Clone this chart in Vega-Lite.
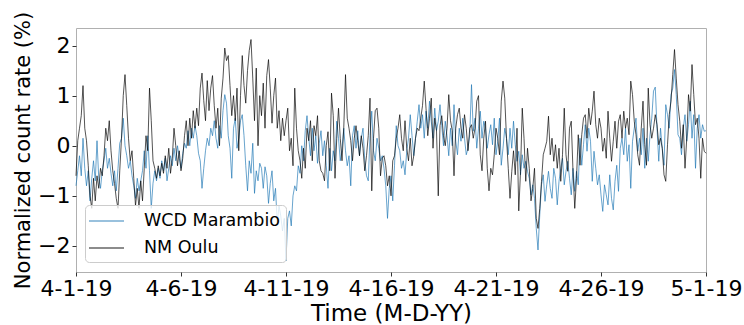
{
"$schema": "https://vega.github.io/schema/vega-lite/v6.json",
"width": 630, "height": 244,
"autosize": {"type": "none"},
"padding": {"left": 76, "top": 28, "right": 38, "bottom": 53},
"background": "white",
"config": {
  "view": {"stroke": "#b0b0b0", "strokeWidth": 1},
  "font": "DejaVu Sans",
  "axis": {"labelFont": "DejaVu Sans", "labelFontSize": 22, "labelColor": "#000", "titleFont": "DejaVu Sans", "titleFontWeight": "normal", "titleColor": "#000", "tickColor": "#333", "tickSize": 4, "domain": false, "grid": false, "labelPadding": 2},
  "axisX": {"titleFontSize": 23, "titlePadding": 3},
  "axisY": {"titleFontSize": 21, "titlePadding": 4}
},
"data": {"values": [
{"t":"2019-04-01T00:00","w":-0.8,"o":-0.6},{"t":"2019-04-01T02:00","w":-0.5,"o":0.1},{"t":"2019-04-01T04:00","w":-0.2,"o":0.35},{"t":"2019-04-01T06:00","w":-0.6,"o":0.6},{"t":"2019-04-01T08:00","w":0.15,"o":1.2},{"t":"2019-04-01T10:00","w":-0.45,"o":0.35},{"t":"2019-04-01T12:00","w":-0.8,"o":0.1},{"t":"2019-04-01T14:00","w":-0.5,"o":-0.4},{"t":"2019-04-01T16:00","w":-1.1,"o":-1.0},{"t":"2019-04-01T18:00","w":-0.65,"o":-1.25},{"t":"2019-04-01T20:00","w":-0.3,"o":-0.65},{"t":"2019-04-01T22:00","w":-0.7,"o":-1.1},
{"t":"2019-04-02T00:00","w":0.1,"o":-0.6},{"t":"2019-04-02T02:00","w":-0.65,"o":-0.85},{"t":"2019-04-02T04:00","w":-0.85,"o":-0.45},{"t":"2019-04-02T06:00","w":-0.5,"o":-0.6},{"t":"2019-04-02T08:00","w":-0.3,"o":-0.2},{"t":"2019-04-02T10:00","w":-0.05,"o":0.35},{"t":"2019-04-02T12:00","w":-0.45,"o":0.1},{"t":"2019-04-02T14:00","w":-0.25,"o":0.5},{"t":"2019-04-02T16:00","w":-0.55,"o":-0.1},{"t":"2019-04-02T18:00","w":-0.8,"o":-0.5},{"t":"2019-04-02T20:00","w":-0.5,"o":-0.75},{"t":"2019-04-02T22:00","w":-0.9,"o":-1.05},
{"t":"2019-04-03T00:00","w":-0.45,"o":-1.25},{"t":"2019-04-03T02:00","w":0.05,"o":-0.5},{"t":"2019-04-03T04:00","w":0.15,"o":0.15},{"t":"2019-04-03T06:00","w":0.55,"o":1.0},{"t":"2019-04-03T08:00","w":0.0,"o":1.42},{"t":"2019-04-03T10:00","w":-0.2,"o":0.8},{"t":"2019-04-03T12:00","w":-0.45,"o":0.15},{"t":"2019-04-03T14:00","w":-0.3,"o":-0.3},{"t":"2019-04-03T16:00","w":-0.6,"o":-0.1},{"t":"2019-04-03T18:00","w":-0.8,"o":-0.65},{"t":"2019-04-03T20:00","w":-1.05,"o":-1.2},{"t":"2019-04-03T22:00","w":-0.65,"o":-0.85},
{"t":"2019-04-04T00:00","w":-0.9,"o":-1.25},{"t":"2019-04-04T02:00","w":-0.7,"o":-0.7},{"t":"2019-04-04T04:00","w":-0.5,"o":-1.1},{"t":"2019-04-04T06:00","w":-0.1,"o":-0.45},{"t":"2019-04-04T08:00","w":-0.45,"o":0.2},{"t":"2019-04-04T10:00","w":0.2,"o":-0.1},{"t":"2019-04-04T12:00","w":-0.5,"o":1.15},{"t":"2019-04-04T14:00","w":-1.25,"o":0.5},{"t":"2019-04-04T16:00","w":-0.75,"o":-0.3},{"t":"2019-04-04T18:00","w":-0.5,"o":-0.45},{"t":"2019-04-04T20:00","w":-0.7,"o":-0.65},{"t":"2019-04-04T22:00","w":-0.45,"o":-0.4},
{"t":"2019-04-05T00:00","w":-0.65,"o":-0.6},{"t":"2019-04-05T02:00","w":-0.3,"o":-0.35},{"t":"2019-04-05T04:00","w":-0.5,"o":-0.55},{"t":"2019-04-05T06:00","w":-0.25,"o":-0.2},{"t":"2019-04-05T08:00","w":-0.7,"o":-0.45},{"t":"2019-04-05T10:00","w":-0.45,"o":-0.05},{"t":"2019-04-05T12:00","w":-0.2,"o":-0.55},{"t":"2019-04-05T14:00","w":-0.4,"o":-0.25},{"t":"2019-04-05T16:00","w":-0.05,"o":0.35},{"t":"2019-04-05T18:00","w":-0.3,"o":0.0},{"t":"2019-04-05T20:00","w":0.0,"o":-0.4},{"t":"2019-04-05T22:00","w":-0.25,"o":-0.1},
{"t":"2019-04-06T00:00","w":-0.45,"o":-0.5},{"t":"2019-04-06T02:00","w":-0.15,"o":-0.25},{"t":"2019-04-06T04:00","w":0.05,"o":0.2},{"t":"2019-04-06T06:00","w":-0.05,"o":0.5},{"t":"2019-04-06T08:00","w":0.3,"o":0.0},{"t":"2019-04-06T10:00","w":0.0,"o":0.55},{"t":"2019-04-06T12:00","w":0.35,"o":0.15},{"t":"2019-04-06T14:00","w":0.15,"o":0.7},{"t":"2019-04-06T16:00","w":0.4,"o":0.35},{"t":"2019-04-06T18:00","w":0.2,"o":0.75},{"t":"2019-04-06T20:00","w":-0.15,"o":0.4},{"t":"2019-04-06T22:00","w":-0.3,"o":1.15},
{"t":"2019-04-07T00:00","w":-0.85,"o":1.45},{"t":"2019-04-07T02:00","w":-0.45,"o":0.9},{"t":"2019-04-07T04:00","w":-0.1,"o":0.5},{"t":"2019-04-07T06:00","w":0.15,"o":1.3},{"t":"2019-04-07T08:00","w":0.0,"o":0.7},{"t":"2019-04-07T10:00","w":0.35,"o":1.15},{"t":"2019-04-07T12:00","w":0.2,"o":1.4},{"t":"2019-04-07T14:00","w":0.5,"o":0.8},{"t":"2019-04-07T16:00","w":0.15,"o":0.35},{"t":"2019-04-07T18:00","w":-0.05,"o":0.75},{"t":"2019-04-07T20:00","w":0.4,"o":0.0},{"t":"2019-04-07T22:00","w":0.15,"o":0.95},
{"t":"2019-04-08T00:00","w":0.7,"o":1.35},{"t":"2019-04-08T02:00","w":1.02,"o":1.95},{"t":"2019-04-08T04:00","w":0.85,"o":1.7},{"t":"2019-04-08T06:00","w":0.2,"o":1.8},{"t":"2019-04-08T08:00","w":-0.05,"o":1.2},{"t":"2019-04-08T10:00","w":-0.65,"o":0.6},{"t":"2019-04-08T12:00","w":0.35,"o":1.0},{"t":"2019-04-08T14:00","w":0.55,"o":0.5},{"t":"2019-04-08T16:00","w":-0.05,"o":1.15},{"t":"2019-04-08T18:00","w":0.15,"o":-0.1},{"t":"2019-04-08T20:00","w":0.5,"o":1.0},{"t":"2019-04-08T22:00","w":0.62,"o":1.8},
{"t":"2019-04-09T00:00","w":0.2,"o":1.2},{"t":"2019-04-09T02:00","w":-0.4,"o":0.85},{"t":"2019-04-09T04:00","w":-0.9,"o":1.5},{"t":"2019-04-09T06:00","w":-0.3,"o":1.9},{"t":"2019-04-09T08:00","w":-0.55,"o":2.12},{"t":"2019-04-09T10:00","w":0.05,"o":1.35},{"t":"2019-04-09T12:00","w":-0.95,"o":0.5},{"t":"2019-04-09T14:00","w":-0.5,"o":1.55},{"t":"2019-04-09T16:00","w":-0.7,"o":0.0},{"t":"2019-04-09T18:00","w":-0.35,"o":1.0},{"t":"2019-04-09T20:00","w":-0.45,"o":0.6},{"t":"2019-04-09T22:00","w":-0.85,"o":1.25},
{"t":"2019-04-10T00:00","w":-0.42,"o":0.35},{"t":"2019-04-10T02:00","w":-0.6,"o":1.4},{"t":"2019-04-10T04:00","w":-1.15,"o":1.72},{"t":"2019-04-10T06:00","w":-0.75,"o":1.15},{"t":"2019-04-10T08:00","w":-0.5,"o":0.45},{"t":"2019-04-10T10:00","w":-1.1,"o":1.0},{"t":"2019-04-10T12:00","w":-0.85,"o":1.35},{"t":"2019-04-10T14:00","w":-1.55,"o":0.35},{"t":"2019-04-10T16:00","w":-1.2,"o":0.7},{"t":"2019-04-10T18:00","w":-1.4,"o":0.1},{"t":"2019-04-10T20:00","w":-1.7,"o":0.55},{"t":"2019-04-10T22:00","w":-1.45,"o":0.2},
{"t":"2019-04-11T00:00","w":-2.3,"o":0.5},{"t":"2019-04-11T02:00","w":-1.45,"o":0.75},{"t":"2019-04-11T04:00","w":-1.3,"o":-0.1},{"t":"2019-04-11T06:00","w":-1.6,"o":0.15},{"t":"2019-04-11T08:00","w":-1.0,"o":-0.4},{"t":"2019-04-11T10:00","w":-0.8,"o":1.15},{"t":"2019-04-11T12:00","w":-0.9,"o":0.35},{"t":"2019-04-11T14:00","w":-0.4,"o":-0.1},{"t":"2019-04-11T16:00","w":-0.55,"o":-0.3},{"t":"2019-04-11T18:00","w":0.0,"o":-0.65},{"t":"2019-04-11T20:00","w":-0.3,"o":-0.05},{"t":"2019-04-11T22:00","w":0.3,"o":-0.45},
{"t":"2019-04-12T00:00","w":0.6,"o":0.35},{"t":"2019-04-12T02:00","w":0.15,"o":0.1},{"t":"2019-04-12T04:00","w":-0.2,"o":0.5},{"t":"2019-04-12T06:00","w":0.35,"o":-0.3},{"t":"2019-04-12T08:00","w":-0.1,"o":0.4},{"t":"2019-04-12T10:00","w":0.2,"o":0.2},{"t":"2019-04-12T12:00","w":-0.35,"o":0.6},{"t":"2019-04-12T14:00","w":0.05,"o":-0.3},{"t":"2019-04-12T16:00","w":0.3,"o":-0.5},{"t":"2019-04-12T18:00","w":-0.2,"o":-0.55},{"t":"2019-04-12T20:00","w":0.1,"o":-0.7},{"t":"2019-04-12T22:00","w":-0.4,"o":0.0},
{"t":"2019-04-13T00:00","w":-0.85,"o":0.28},{"t":"2019-04-13T02:00","w":-0.05,"o":-0.5},{"t":"2019-04-13T04:00","w":-0.5,"o":1.05},{"t":"2019-04-13T06:00","w":-0.1,"o":0.6},{"t":"2019-04-13T08:00","w":-0.3,"o":-0.65},{"t":"2019-04-13T10:00","w":0.49,"o":0.15},{"t":"2019-04-13T12:00","w":0.15,"o":0.75},{"t":"2019-04-13T14:00","w":-0.3,"o":0.15},{"t":"2019-04-13T16:00","w":-0.05,"o":-0.3},{"t":"2019-04-13T18:00","w":0.35,"o":0.35},{"t":"2019-04-13T20:00","w":-0.1,"o":1.42},{"t":"2019-04-13T22:00","w":-0.4,"o":0.55},
{"t":"2019-04-14T00:00","w":-0.2,"o":0.35},{"t":"2019-04-14T02:00","w":-0.8,"o":0.1},{"t":"2019-04-14T04:00","w":0.2,"o":-0.3},{"t":"2019-04-14T06:00","w":0.4,"o":0.15},{"t":"2019-04-14T08:00","w":-0.05,"o":0.4},{"t":"2019-04-14T10:00","w":0.3,"o":0.1},{"t":"2019-04-14T12:00","w":-0.2,"o":-0.2},{"t":"2019-04-14T14:00","w":0.15,"o":0.2},{"t":"2019-04-14T16:00","w":0.35,"o":-0.05},{"t":"2019-04-14T18:00","w":-0.3,"o":-0.5},{"t":"2019-04-14T20:00","w":-0.6,"o":-0.2},{"t":"2019-04-14T22:00","w":-0.7,"o":0.2},
{"t":"2019-04-15T00:00","w":0.2,"o":0.95},{"t":"2019-04-15T02:00","w":0.69,"o":-0.9},{"t":"2019-04-15T04:00","w":-0.1,"o":0.15},{"t":"2019-04-15T06:00","w":-0.3,"o":0.7},{"t":"2019-04-15T08:00","w":0.15,"o":0.75},{"t":"2019-04-15T10:00","w":-0.05,"o":0.35},{"t":"2019-04-15T12:00","w":-0.3,"o":-0.6},{"t":"2019-04-15T14:00","w":-0.2,"o":-0.25},{"t":"2019-04-15T16:00","w":-0.45,"o":-0.2},{"t":"2019-04-15T18:00","w":-0.8,"o":-0.4},{"t":"2019-04-15T20:00","w":-1.45,"o":-0.8},{"t":"2019-04-15T22:00","w":-0.85,"o":-0.6},
{"t":"2019-04-16T00:00","w":-0.6,"o":-1.0},{"t":"2019-04-16T02:00","w":-1.1,"o":-0.3},{"t":"2019-04-16T04:00","w":-0.4,"o":-0.2},{"t":"2019-04-16T06:00","w":0.4,"o":0.15},{"t":"2019-04-16T08:00","w":0.0,"o":0.35},{"t":"2019-04-16T10:00","w":-0.1,"o":0.62},{"t":"2019-04-16T12:00","w":-0.45,"o":0.15},{"t":"2019-04-16T14:00","w":-0.3,"o":-0.1},{"t":"2019-04-16T16:00","w":-0.58,"o":0.5},{"t":"2019-04-16T18:00","w":-0.1,"o":-0.05},{"t":"2019-04-16T20:00","w":0.15,"o":-0.3},{"t":"2019-04-16T22:00","w":0.62,"o":0.15},
{"t":"2019-04-17T00:00","w":0.2,"o":-0.4},{"t":"2019-04-17T02:00","w":-0.2,"o":-0.2},{"t":"2019-04-17T04:00","w":0.15,"o":0.15},{"t":"2019-04-17T06:00","w":0.49,"o":0.35},{"t":"2019-04-17T08:00","w":0.82,"o":0.3},{"t":"2019-04-17T10:00","w":0.35,"o":0.55},{"t":"2019-04-17T12:00","w":0.62,"o":0.8},{"t":"2019-04-17T14:00","w":0.15,"o":1.29},{"t":"2019-04-17T16:00","w":0.69,"o":0.75},{"t":"2019-04-17T18:00","w":0.35,"o":0.2},{"t":"2019-04-17T20:00","w":0.89,"o":0.55},{"t":"2019-04-17T22:00","w":0.49,"o":0.95},
{"t":"2019-04-18T00:00","w":0.15,"o":-0.05},{"t":"2019-04-18T02:00","w":0.75,"o":0.55},{"t":"2019-04-18T04:00","w":0.3,"o":0.3},{"t":"2019-04-18T06:00","w":0.49,"o":-1.0},{"t":"2019-04-18T08:00","w":0.82,"o":0.4},{"t":"2019-04-18T10:00","w":0.4,"o":0.6},{"t":"2019-04-18T12:00","w":0.0,"o":0.2},{"t":"2019-04-18T14:00","w":0.49,"o":0.0},{"t":"2019-04-18T16:00","w":0.2,"o":0.35},{"t":"2019-04-18T18:00","w":-0.2,"o":1.02},{"t":"2019-04-18T20:00","w":0.35,"o":0.5},{"t":"2019-04-18T22:00","w":0.0,"o":0.3},
{"t":"2019-04-19T00:00","w":0.82,"o":-0.6},{"t":"2019-04-19T02:00","w":0.09,"o":0.35},{"t":"2019-04-19T04:00","w":-0.18,"o":0.62},{"t":"2019-04-19T06:00","w":0.35,"o":0.75},{"t":"2019-04-19T08:00","w":0.09,"o":0.35},{"t":"2019-04-19T10:00","w":0.55,"o":0.15},{"t":"2019-04-19T12:00","w":0.15,"o":0.62},{"t":"2019-04-19T14:00","w":-0.18,"o":0.35},{"t":"2019-04-19T16:00","w":-0.05,"o":-0.1},{"t":"2019-04-19T18:00","w":0.22,"o":0.35},{"t":"2019-04-19T20:00","w":1.22,"o":0.42},{"t":"2019-04-19T22:00","w":0.29,"o":0.15},
{"t":"2019-04-20T00:00","w":0.55,"o":0.35},{"t":"2019-04-20T02:00","w":-0.05,"o":0.89},{"t":"2019-04-20T04:00","w":0.35,"o":1.0},{"t":"2019-04-20T06:00","w":0.69,"o":-0.18},{"t":"2019-04-20T08:00","w":0.15,"o":-0.5},{"t":"2019-04-20T10:00","w":0.49,"o":0.15},{"t":"2019-04-20T12:00","w":0.35,"o":0.49},{"t":"2019-04-20T14:00","w":-0.05,"o":-0.45},{"t":"2019-04-20T16:00","w":0.22,"o":-0.9},{"t":"2019-04-20T18:00","w":0.42,"o":-0.45},{"t":"2019-04-20T20:00","w":0.02,"o":-0.58},{"t":"2019-04-20T22:00","w":0.55,"o":-0.18},
{"t":"2019-04-21T00:00","w":-0.18,"o":0.35},{"t":"2019-04-21T02:00","w":0.09,"o":0.15},{"t":"2019-04-21T04:00","w":0.55,"o":-0.18},{"t":"2019-04-21T06:00","w":-0.39,"o":0.89},{"t":"2019-04-21T08:00","w":-0.05,"o":1.29},{"t":"2019-04-21T10:00","w":0.35,"o":0.95},{"t":"2019-04-21T12:00","w":0.15,"o":0.15},{"t":"2019-04-21T14:00","w":-0.18,"o":-0.45},{"t":"2019-04-21T16:00","w":0.35,"o":-1.05},{"t":"2019-04-21T18:00","w":-0.05,"o":-0.52},{"t":"2019-04-21T20:00","w":0.49,"o":-0.1},{"t":"2019-04-21T22:00","w":0.02,"o":-0.58},
{"t":"2019-04-22T00:00","w":-0.31,"o":0.35},{"t":"2019-04-22T02:00","w":-0.11,"o":-1.3},{"t":"2019-04-22T04:00","w":-0.58,"o":-0.52},{"t":"2019-04-22T06:00","w":-0.18,"o":0.75},{"t":"2019-04-22T08:00","w":-0.45,"o":0.15},{"t":"2019-04-22T10:00","w":-0.31,"o":-0.71},{"t":"2019-04-22T12:00","w":-0.51,"o":-0.05},{"t":"2019-04-22T14:00","w":-0.65,"o":-0.45},{"t":"2019-04-22T16:00","w":-0.98,"o":-1.1},{"t":"2019-04-22T18:00","w":-0.78,"o":-0.85},{"t":"2019-04-22T20:00","w":-1.05,"o":-0.45},{"t":"2019-04-22T22:00","w":-1.65,"o":-1.45},
{"t":"2019-04-23T00:00","w":-2.08,"o":-1.65},{"t":"2019-04-23T02:00","w":-1.38,"o":-1.25},{"t":"2019-04-23T04:00","w":-0.78,"o":-0.71},{"t":"2019-04-23T06:00","w":-0.58,"o":-0.18},{"t":"2019-04-23T08:00","w":-1.11,"o":-0.05},{"t":"2019-04-23T10:00","w":-0.78,"o":0.09},{"t":"2019-04-23T12:00","w":-0.51,"o":0.59},{"t":"2019-04-23T14:00","w":-0.85,"o":-0.18},{"t":"2019-04-23T16:00","w":-1.05,"o":0.15},{"t":"2019-04-23T18:00","w":-0.45,"o":-0.31},{"t":"2019-04-23T20:00","w":-0.65,"o":0.02},{"t":"2019-04-23T22:00","w":-1.18,"o":-0.45},
{"t":"2019-04-24T00:00","w":-0.71,"o":-0.05},{"t":"2019-04-24T02:00","w":-0.45,"o":-0.71},{"t":"2019-04-24T04:00","w":-0.25,"o":-0.18},{"t":"2019-04-24T06:00","w":-0.78,"o":0.75},{"t":"2019-04-24T08:00","w":-0.51,"o":-0.18},{"t":"2019-04-24T10:00","w":-0.31,"o":-0.51},{"t":"2019-04-24T12:00","w":-0.65,"o":0.35},{"t":"2019-04-24T14:00","w":-0.98,"o":0.49},{"t":"2019-04-24T16:00","w":-0.45,"o":-0.51},{"t":"2019-04-24T18:00","w":-0.91,"o":-1.25},{"t":"2019-04-24T20:00","w":-0.51,"o":-0.65},{"t":"2019-04-24T22:00","w":-0.78,"o":0.22},
{"t":"2019-04-25T00:00","w":0.15,"o":-0.39},{"t":"2019-04-25T02:00","w":-0.39,"o":0.22},{"t":"2019-04-25T04:00","w":0.02,"o":0.55},{"t":"2019-04-25T06:00","w":0.42,"o":0.62},{"t":"2019-04-25T08:00","w":-0.11,"o":0.15},{"t":"2019-04-25T10:00","w":0.35,"o":0.75},{"t":"2019-04-25T12:00","w":0.09,"o":0.42},{"t":"2019-04-25T14:00","w":-0.71,"o":0.69},{"t":"2019-04-25T16:00","w":-0.11,"o":1.09},{"t":"2019-04-25T18:00","w":-0.45,"o":0.42},{"t":"2019-04-25T20:00","w":-0.78,"o":0.15},{"t":"2019-04-25T22:00","w":-0.58,"o":0.55},
{"t":"2019-04-26T00:00","w":-0.98,"o":0.35},{"t":"2019-04-26T02:00","w":-1.31,"o":-0.11},{"t":"2019-04-26T04:00","w":-0.78,"o":0.15},{"t":"2019-04-26T06:00","w":-0.98,"o":-0.25},{"t":"2019-04-26T08:00","w":-1.18,"o":0.69},{"t":"2019-04-26T10:00","w":-0.58,"o":0.15},{"t":"2019-04-26T12:00","w":-1.05,"o":-0.31},{"t":"2019-04-26T14:00","w":-1.28,"o":0.09},{"t":"2019-04-26T16:00","w":-0.71,"o":0.49},{"t":"2019-04-26T18:00","w":-0.39,"o":-0.05},{"t":"2019-04-26T20:00","w":-0.91,"o":0.49},{"t":"2019-04-26T22:00","w":-0.05,"o":0.62},
{"t":"2019-04-27T00:00","w":0.15,"o":0.15},{"t":"2019-04-27T02:00","w":-0.18,"o":0.69},{"t":"2019-04-27T04:00","w":0.35,"o":0.35},{"t":"2019-04-27T06:00","w":-0.31,"o":0.55},{"t":"2019-04-27T08:00","w":0.02,"o":0.22},{"t":"2019-04-27T10:00","w":-0.85,"o":1.29},{"t":"2019-04-27T12:00","w":0.09,"o":1.02},{"t":"2019-04-27T14:00","w":0.35,"o":0.49},{"t":"2019-04-27T16:00","w":0.55,"o":0.22},{"t":"2019-04-27T18:00","w":-0.11,"o":-0.18},{"t":"2019-04-27T20:00","w":0.15,"o":-0.39},{"t":"2019-04-27T22:00","w":-0.18,"o":0.35},
{"t":"2019-04-28T00:00","w":0.35,"o":0.89},{"t":"2019-04-28T02:00","w":-0.45,"o":0.02},{"t":"2019-04-28T04:00","w":0.15,"o":-0.39},{"t":"2019-04-28T06:00","w":-0.31,"o":1.15},{"t":"2019-04-28T08:00","w":0.22,"o":0.42},{"t":"2019-04-28T10:00","w":0.55,"o":0.15},{"t":"2019-04-28T12:00","w":1.09,"o":0.35},{"t":"2019-04-28T14:00","w":1.17,"o":0.62},{"t":"2019-04-28T16:00","w":0.35,"o":0.42},{"t":"2019-04-28T18:00","w":-0.31,"o":0.02},{"t":"2019-04-28T20:00","w":0.35,"o":0.15},{"t":"2019-04-28T22:00","w":-0.05,"o":-0.05},
{"t":"2019-04-29T00:00","w":-0.39,"o":-0.58},{"t":"2019-04-29T02:00","w":0.82,"o":-0.71},{"t":"2019-04-29T04:00","w":0.62,"o":0.02},{"t":"2019-04-29T06:00","w":0.35,"o":0.62},{"t":"2019-04-29T08:00","w":1.02,"o":0.89},{"t":"2019-04-29T10:00","w":1.15,"o":1.42},{"t":"2019-04-29T12:00","w":1.52,"o":1.92},{"t":"2019-04-29T14:00","w":1.02,"o":1.35},{"t":"2019-04-29T16:00","w":0.22,"o":0.82},{"t":"2019-04-29T18:00","w":0.15,"o":0.49},{"t":"2019-04-29T20:00","w":-0.18,"o":-0.05},{"t":"2019-04-29T22:00","w":0.35,"o":0.42},
{"t":"2019-04-30T00:00","w":0.62,"o":-0.45},{"t":"2019-04-30T02:00","w":0.09,"o":0.15},{"t":"2019-04-30T04:00","w":0.42,"o":1.02},{"t":"2019-04-30T06:00","w":0.89,"o":0.69},{"t":"2019-04-30T08:00","w":0.15,"o":1.62},{"t":"2019-04-30T10:00","w":0.62,"o":1.02},{"t":"2019-04-30T12:00","w":-0.45,"o":0.42},{"t":"2019-04-30T14:00","w":0.35,"o":0.55},{"t":"2019-04-30T16:00","w":0.62,"o":0.15},{"t":"2019-04-30T18:00","w":0.15,"o":-0.65},{"t":"2019-04-30T20:00","w":0.42,"o":0.15},{"t":"2019-04-30T22:00","w":0.29,"o":-0.11},
{"t":"2019-05-01T00:00","w":0.3,"o":-0.15}
]},
"transform": [{"fold": ["w", "o"], "as": ["s", "v"]}],
"mark": {"type": "line", "strokeWidth": 0.9, "opacity": 0.75},
"encoding": {
  "x": {"field": "t", "type": "temporal",
    "scale": {"domain": [{"year": 2019, "month": 4, "date": 1}, {"year": 2019, "month": 5, "date": 1}]},
    "axis": {"values": [{"year": 2019, "month": 4, "date": 1}, {"year": 2019, "month": 4, "date": 6}, {"year": 2019, "month": 4, "date": 11}, {"year": 2019, "month": 4, "date": 16}, {"year": 2019, "month": 4, "date": 21}, {"year": 2019, "month": 4, "date": 26}, {"year": 2019, "month": 5, "date": 1}],
      "format": "%-m-%-d-%y", "title": "Time (M-D-YY)", "labelFlush": false, "labelOverlap": false}},
  "y": {"field": "v", "type": "quantitative",
    "scale": {"domain": [-2.52, 2.35], "nice": false, "zero": false},
    "axis": {"values": [-2, -1, 0, 1, 2], "format": "d", "title": "Normalized count rate (%)"}},
  "color": {"field": "s", "type": "nominal",
    "scale": {"domain": ["w", "o"], "range": ["#1f77b4", "#000000"]},
    "legend": {"orient": "none", "legendX": 9, "legendY": 177, "title": null,
      "labelExpr": "datum.value == 'w' ? 'WCD Marambio' : 'NM Oulu'",
      "symbolType": "M-1.2,0H2.3", "symbolSize": 400, "symbolStrokeWidth": 1.5, "symbolOpacity": 0.6,
      "labelFont": "DejaVu Sans", "labelFontSize": 17.5, "labelColor": "#000", "labelOffset": 32, "labelLimit": 300,
      "padding": 5, "rowPadding": 7, "strokeColor": "#cccccc", "fillColor": "rgba(255,255,255,0.8)", "cornerRadius": 4}}
}
}
